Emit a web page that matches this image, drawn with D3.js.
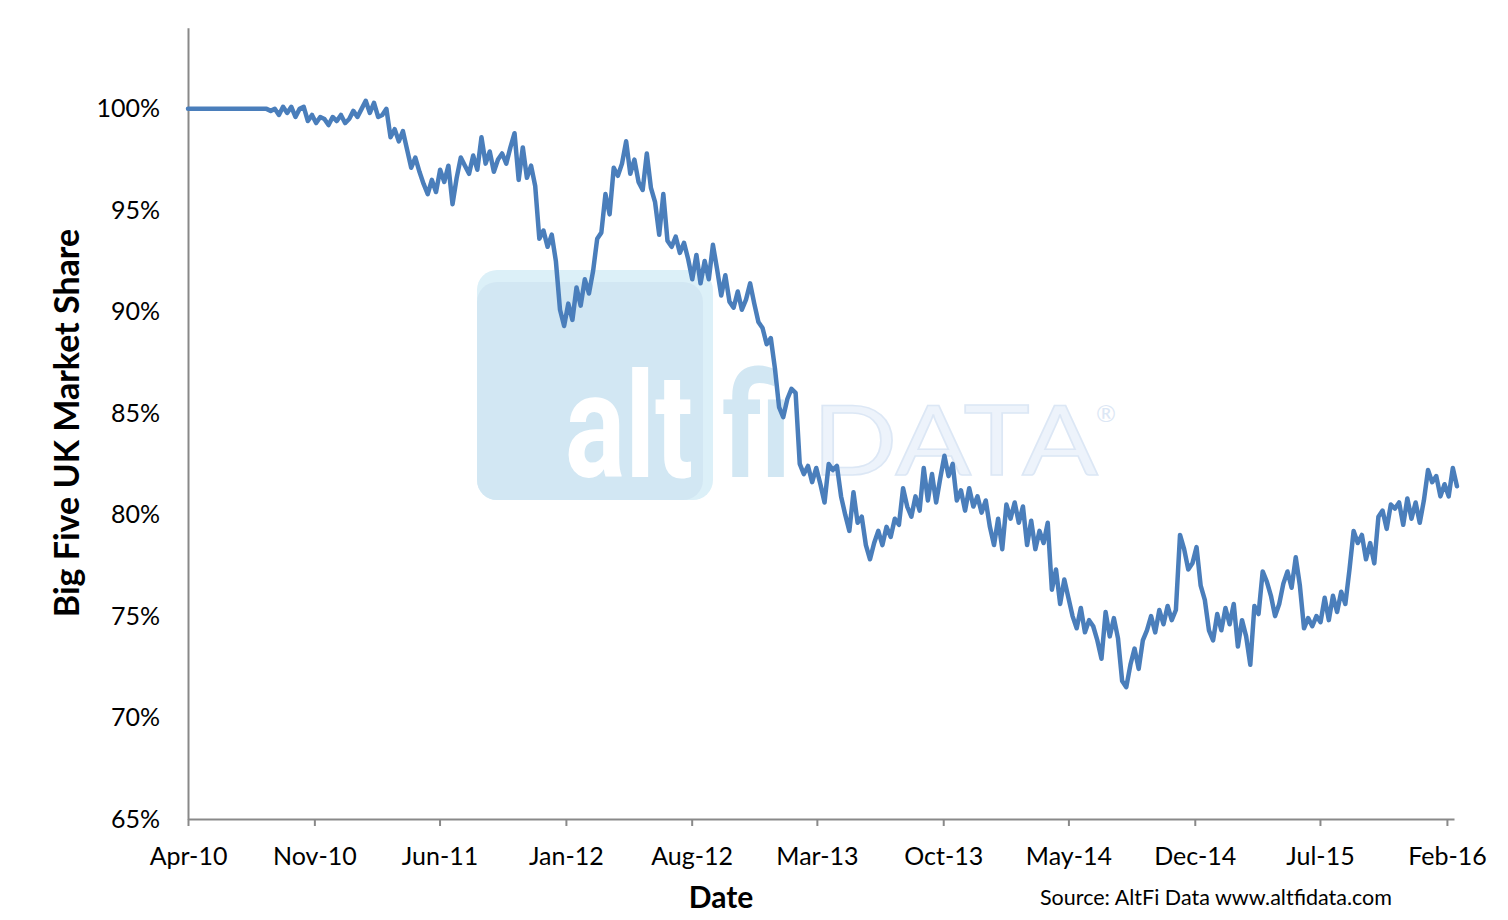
<!DOCTYPE html>
<html>
<head>
<meta charset="utf-8">
<script src="https://cdn.jsdelivr.net/npm/d3@7"></script>
<style>
  html, body { margin: 0; padding: 0; background: #ffffff; }
  svg { display: block; }
</style>
</head>
<body>
<svg id="chart" width="1508" height="920"></svg>
<script>
// ---------------- DATA ----------------
const startDate = "2010-04-01";          // first weekly observation
const stepDays = 7;                      // weekly observations
// Big Five UK market share (%), weekly, read from the reference picture
const shareValues = [
  100.0,100.0,100.0,100.0,100.0,100.0,100.0,100.0,100.0,100.0,
  100.0,100.0,100.0,100.0,100.0,100.0,100.0,100.0,100.0,100.0,
  99.9,100.0,99.7,100.1,99.8,100.1,99.6,100.0,100.1,
  99.4,99.7,99.3,99.6,99.5,99.2,99.6,99.4,99.7,99.3,
  99.5,99.9,99.6,100.0,
  100.4,99.8,100.3,99.6,
  99.7,100.0,
  98.6,99.0,98.4,98.9,
  98.0,97.1,97.6,96.9,
  96.3,95.8,96.5,95.9,
  97.0,96.4,97.2,95.3,
  96.6,97.6,
  97.2,96.8,97.7,97.0,98.6,97.3,97.9,96.9,97.5,97.8,97.3,
  98.1,98.8,
  96.5,98.1,
  96.6,97.2,96.2,
  93.6,94.0,93.2,
  93.8,92.5,
  90.1,89.3,
  90.4,89.6,91.2,90.3,
  91.6,90.9,92.0,
  93.6,93.9,
  95.8,94.8,
  97.1,96.7,97.3,98.4,
  96.8,97.5,96.4,
  96.0,97.8,
  96.1,95.4,
  93.8,95.8,93.5,
  93.2,93.7,92.9,93.4,92.6,
  91.6,
  92.8,91.4,92.5,
  91.6,93.3,92.1,
  90.8,91.8,90.5,
  90.2,91.0,90.1,90.6,91.4,90.4,89.5,
  89.2,88.4,88.7,
  87.2,
  85.3,84.8,85.7,
  86.2,86.0,
  82.5,
  82.0,82.4,81.6,82.3,81.5,80.6,
  82.5,82.2,82.4,
  80.9,80.0,
  79.2,81.1,
  79.6,79.9,
  78.5,77.8,78.6,
  79.2,78.5,79.4,78.9,
  79.8,79.5,81.3,
  80.4,79.9,80.9,80.2,
  82.3,
  80.7,82.0,80.6,81.8,
  82.9,81.9,82.5,
  80.7,81.2,80.2,
  81.3,80.4,80.9,80.1,80.7,
  79.4,78.5,79.8,78.3,
  80.5,79.8,80.6,79.6,80.4,
  78.5,79.7,78.3,79.2,
  78.6,79.6,
  76.3,77.3,
  75.6,76.8,75.9,
  75.0,74.4,75.4,74.2,74.8,
  74.5,73.8,72.9,
  75.2,74.0,74.9,73.9,
  71.8,71.5,
  72.6,73.4,72.4,73.8,
  74.3,75.0,74.2,75.3,
  74.6,75.5,74.8,75.3,
  79.0,
  78.3,77.3,77.6,
  78.4,76.5,75.8,
  74.3,73.8,75.1,74.3,75.4,
  74.6,75.6,73.5,
  74.8,74.0,72.6,
  75.5,75.1,
  77.2,76.7,
  76.0,75.0,75.6,
  76.6,77.2,76.4,77.9,76.5,
  74.4,74.9,74.5,75.0,
  74.7,75.9,74.8,76.0,75.2,76.2,75.6,
  77.3,
  79.2,78.6,79.0,
  77.8,78.6,
  77.6,79.9,80.2,
  79.3,80.5,80.3,
  80.6,79.5,80.8,79.8,80.6,79.6,80.7,
  82.2,81.6,81.9,
  80.9,81.5,80.9,82.3,81.4
];
const xTickDates  = ["2010-04-01","2010-11-01","2011-06-01","2012-01-01","2012-08-01","2013-03-01",
                     "2013-10-01","2014-05-01","2014-12-01","2015-07-01","2016-02-01"];
const xTickLabels = ["Apr-10","Nov-10","Jun-11","Jan-12","Aug-12","Mar-13",
                     "Oct-13","May-14","Dec-14","Jul-15","Feb-16"];
const yTickValues = [65, 70, 75, 80, 85, 90, 95, 100];
const yTickLabels = ["65%","70%","75%","80%","85%","90%","95%","100%"];
const xDomain = ["2010-04-01", "2016-02-13"];
const yDomain = [65, 104];

// ---------------- CHART ----------------
const parse = d3.timeParse("%Y-%m-%d");
const t0 = parse(startDate);
const series = shareValues.map((v, i) => ({ date: d3.timeDay.offset(t0, i * stepDays), value: v }));

const svg = d3.select("#chart");
const FONT = "Lato, 'Open Sans', sans-serif";
const axisColor = "#898989";
const lineColor = "#4a7ebb";

const x = d3.scaleTime().domain(xDomain.map(parse)).range([188, 1454]);
const y = d3.scaleLinear().domain(yDomain).range([819, 27.7]);

// ---- watermark (drawn behind the line) ----
const wm = svg.append("g").attr("class", "watermark");
wm.append("rect").attr("x", 477).attr("y", 270).attr("width", 236).attr("height", 230)
  .attr("rx", 20).attr("fill", "#dcf0f8");
wm.append("rect").attr("x", 477).attr("y", 282).attr("width", 226).attr("height", 218)
  .attr("rx", 20).attr("fill", "#d2e7f3");
const logo = wm.append("text")
  .attr("transform", "translate(565,477) scale(0.77,1)")
  .attr("font-family", "Roboto, Lato, sans-serif").attr("font-weight", 700)
  .attr("font-size", 146);
logo.append("tspan").attr("fill", "#ffffff").text("alt");
logo.append("tspan").attr("fill", "#d2e7f3").attr("dx", 38).text("fi");
wm.append("text").attr("x", 812).attr("y", 475).text("DATA")
  .attr("font-family", "Lato, sans-serif").attr("font-weight", 400)
  .attr("font-size", 97).attr("fill", "#edf3fb").attr("stroke", "#dce7f5").attr("stroke-width", 1.5)
  .attr("textLength", 286).attr("lengthAdjust", "spacingAndGlyphs");
wm.append("text").attr("x", 1096).attr("y", 422).text("®")
  .attr("font-family", "Lato, sans-serif").attr("font-size", 24).attr("fill", "#dce7f5");

// ---- axes ----
const xAxis = d3.axisBottom(x)
  .tickValues(xTickDates.map(parse))
  .tickFormat((d, i) => xTickLabels[i])
  .tickSize(7).tickSizeOuter(0).tickPadding(21);
const gx = svg.append("g").attr("transform", "translate(0,819)").call(xAxis);
gx.select(".domain").attr("stroke", axisColor).attr("stroke-width", 2);
gx.selectAll(".tick line").attr("stroke", axisColor).attr("stroke-width", 2);
gx.selectAll(".tick text").attr("font-family", FONT).attr("font-size", 25).attr("fill", "#000")
  .attr("dy", "0.72em");

const yAxis = d3.axisLeft(y)
  .tickValues(yTickValues)
  .tickFormat((d, i) => yTickLabels[i])
  .tickSize(0).tickSizeOuter(0).tickPadding(28);
const gy = svg.append("g").attr("transform", "translate(188,0)").call(yAxis);
gy.select(".domain").attr("stroke", axisColor).attr("stroke-width", 2);
gy.selectAll(".tick text").attr("font-family", FONT).attr("font-size", 25).attr("fill", "#000");

// ---- line ----
const line = d3.line().x(d => x(d.date)).y(d => y(d.value));
svg.append("path").datum(series)
  .attr("d", line).attr("fill", "none")
  .attr("stroke", lineColor).attr("stroke-width", 4.5)
  .attr("stroke-linejoin", "round").attr("stroke-linecap", "round");

// ---- titles ----
svg.append("text").attr("transform", "translate(79,423) rotate(-90)")
  .attr("text-anchor", "middle").attr("font-family", FONT).attr("font-weight", 700)
  .attr("font-size", 34).attr("fill", "#000").text("Big Five UK Market Share");
svg.append("text").attr("x", 721).attr("y", 908)
  .attr("text-anchor", "middle").attr("font-family", FONT).attr("font-weight", 700)
  .attr("font-size", 30).attr("fill", "#000").text("Date");
svg.append("text").attr("x", 1040).attr("y", 905)
  .attr("font-family", FONT).attr("font-size", 21.5).attr("fill", "#000")
  .text("Source: AltFi Data www.altfidata.com");
</script>
</body>
</html>
